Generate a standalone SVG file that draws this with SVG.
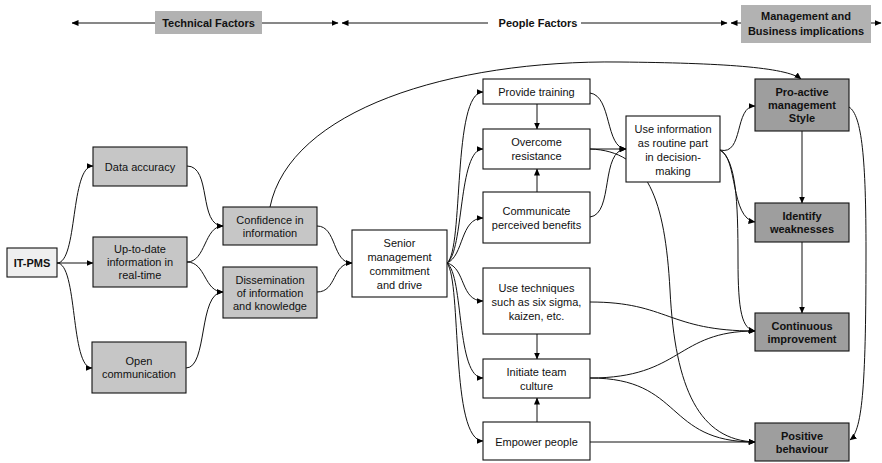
<svg xmlns="http://www.w3.org/2000/svg" width="882" height="463" viewBox="0 0 882 463">
<defs>
<marker id="ah" markerWidth="7" markerHeight="6" refX="6.5" refY="3" orient="auto" markerUnits="userSpaceOnUse">
<path d="M0,0 L7,3 L0,6 Z" fill="#000"/>
</marker>
<style>
.box{stroke:#111;stroke-width:1.1}
.w{fill:#fff}
.lg{fill:#c6c6c6}
.dg{fill:#9e9e9e}
.hd{fill:#b2b2b2;stroke:none}
.ip{fill:#efefef}
text{font-family:"Liberation Sans",Arial,sans-serif;font-size:11px;fill:#111;text-anchor:middle;dominant-baseline:central}
.b{font-weight:bold}
.c{fill:none;stroke:#111;stroke-width:1}
.ca{fill:none;stroke:#111;stroke-width:1;marker-end:url(#ah)}
</style>
</defs>
<rect width="882" height="463" fill="#fff"/>

<g id="header">
<path class="ca" d="M155,23 L72,23"/>
<path class="ca" d="M262,23 L338,23"/>
<path class="ca" d="M488,23 L342,23"/>
<path class="ca" d="M581,23 L727,23"/>
<path class="ca" d="M741,23 L731,23"/>
<path class="ca" d="M871,23 L881,23"/>
<rect class="hd" x="155" y="11" width="107" height="23"/>
<text class="b" x="208.5" y="22.5">Technical Factors</text>
<text class="b" x="538" y="23">People Factors</text>
<rect class="hd" x="741" y="5" width="130" height="38"/>
<text class="b" x="806" y="16">Management and</text>
<text class="b" x="806" y="31">Business implications</text>
</g>

<g id="connectors">
<path class="ca" d="M57,263 C78,263 70,166 93,166"/>
<path class="ca" d="M57,263 L93,263"/>
<path class="ca" d="M57,263 C78,263 70,368 92,368"/>
<path class="ca" d="M187,166 C212,166 198,226 223,226"/>
<path class="ca" d="M187,262 C206,262 204,226 223,226"/>
<path class="ca" d="M187,262 C206,262 204,292 223,292"/>
<path class="ca" d="M186,368 C208,368 198,292 223,292"/>
<path class="ca" d="M317,226 C337,226 332,263 352,263"/>
<path class="ca" d="M317,292 C337,292 332,263 352,263"/>
<path class="ca" d="M270,207 C290,110 450,60 620,62 C720,63 786,67 801,79"/>
<path class="ca" d="M447,263 C464,250 452,92 483,92"/>
<path class="ca" d="M447,263 C464,252 458,149 483,149"/>
<path class="ca" d="M447,263 C464,256 460,218 483,218"/>
<path class="ca" d="M447,263 C466,268 460,301 483,301"/>
<path class="ca" d="M447,263 C464,276 456,378 483,378"/>
<path class="ca" d="M447,263 C462,282 450,441 483,441"/>
<path class="ca" d="M537,104 L537,129"/>
<path class="ca" d="M537,192 L537,169"/>
<path class="ca" d="M537,334 L537,359"/>
<path class="ca" d="M537,422 L537,398"/>
<path class="ca" d="M590,93 C612,96 605,148 626,149"/>
<path class="ca" d="M590,149 L626,149"/>
<path class="ca" d="M590,217 C614,214 600,150 626,149"/>
<path class="ca" d="M590,149 C648,151 665,200 670,290 C675,390 700,440 755,442"/>
<path class="ca" d="M720,150 C744,156 734,106 755,106"/>
<path class="ca" d="M720,150 C738,158 730,218 755,222"/>
<path class="ca" d="M720,150 C736,160 738,200 738,260 C738,312 742,329 755,331"/>
<path class="ca" d="M802,131 L802,203"/>
<path class="ca" d="M802,242 L802,313"/>
<path class="ca" d="M849,107 C862,115 866,160 866,250 C866,380 863,430 850,440"/>
<path class="ca" d="M590,302 C668,302 668,331 755,331"/>
<path class="ca" d="M590,378 C682,378 676,331 755,331"/>
<path class="ca" d="M590,378 C684,378 664,442 755,442"/>
<path class="ca" d="M590,442 L755,442"/>
</g>

<g id="itpms"><rect class="box ip" x="7" y="248" width="50" height="29"/><text class="b" x="32" y="263">IT-PMS</text></g>
<g id="data"><rect class="box lg" x="93" y="147" width="94" height="39"/><text x="140" y="166.5">Data accuracy</text></g>
<g id="uptodate"><rect class="box lg" x="93" y="237" width="94" height="50"/><text x="140" y="249">Up-to-date</text><text x="140" y="262">information in</text><text x="140" y="275">real-time</text></g>
<g id="open"><rect class="box lg" x="92" y="342" width="94" height="51"/><text x="139" y="361">Open</text><text x="139" y="374">communication</text></g>
<g id="confidence"><rect class="box lg" x="223" y="207" width="94" height="38"/><text x="270" y="219.5">Confidence in</text><text x="270" y="232.5">information</text></g>
<g id="dissemination"><rect class="box lg" x="223" y="267" width="94" height="51"/><text x="270" y="279.5">Dissemination</text><text x="270" y="292.5">of information</text><text x="270" y="305.5">and knowledge</text></g>
<g id="senior"><rect class="box w" x="352" y="230" width="95" height="67"/><text x="399.5" y="243">Senior</text><text x="399.5" y="257">management</text><text x="399.5" y="271">commitment</text><text x="399.5" y="285">and drive</text></g>
<g id="training"><rect class="box w" x="483" y="79" width="107" height="25"/><text x="536.5" y="92">Provide training</text></g>
<g id="overcome"><rect class="box w" x="483" y="129" width="107" height="40"/><text x="536.5" y="142">Overcome</text><text x="536.5" y="156">resistance</text></g>
<g id="communicate"><rect class="box w" x="483" y="192" width="107" height="51"/><text x="536.5" y="211">Communicate</text><text x="536.5" y="225">perceived benefits</text></g>
<g id="techniques"><rect class="box w" x="483" y="268" width="107" height="66"/><text x="536.5" y="288">Use techniques</text><text x="536.5" y="302">such as six sigma,</text><text x="536.5" y="316">kaizen, etc.</text></g>
<g id="initiate"><rect class="box w" x="483" y="359" width="107" height="39"/><text x="536.5" y="372">Initiate team</text><text x="536.5" y="386">culture</text></g>
<g id="empower"><rect class="box w" x="483" y="422" width="107" height="38"/><text x="536.5" y="442">Empower people</text></g>
<g id="useinfo"><rect class="box w" x="626" y="116" width="94" height="66"/><text x="673" y="129">Use information</text><text x="673" y="143">as routine part</text><text x="673" y="157">in decision-</text><text x="673" y="171">making</text></g>
<g id="proactive"><rect class="box dg" x="755" y="79" width="94" height="52"/><text class="b" x="802" y="92">Pro-active</text><text class="b" x="802" y="105">management</text><text class="b" x="802" y="118">Style</text></g>
<g id="identify"><rect class="box dg" x="755" y="203" width="94" height="39"/><text class="b" x="802" y="216">Identify</text><text class="b" x="802" y="229">weaknesses</text></g>
<g id="continuous"><rect class="box dg" x="755" y="313" width="94" height="38"/><text class="b" x="802" y="325.5">Continuous</text><text class="b" x="802" y="338.5">improvement</text></g>
<g id="positive"><rect class="box dg" x="755" y="423" width="94" height="38"/><text class="b" x="802" y="435.5">Positive</text><text class="b" x="802" y="448.5">behaviour</text></g>
</svg>
